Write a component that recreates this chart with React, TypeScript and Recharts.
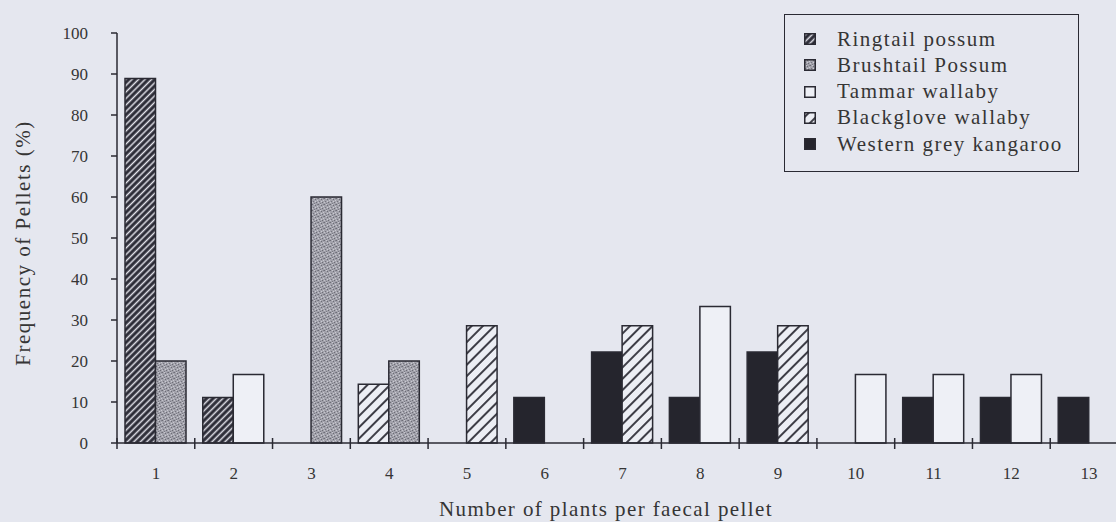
import React from 'react';
import { BarChart, Bar, XAxis, YAxis, Cell } from 'recharts';

const categories = ['1', '2', '3', '4', '5', '6', '7', '8', '9', '10', '11', '12', '13'];

// % of pellets per species for each number of plants
const ringtail = [88.9, 11.1, 0, 0, 0, 0, 0, 0, 0, 0, 0, 0, 0];
const brushtail = [20, 0, 60, 20, 0, 0, 0, 0, 0, 0, 0, 0, 0];
const tammar = [0, 16.7, 0, 0, 0, 0, 0, 33.3, 0, 16.7, 16.7, 16.7, 0];
const blackglove = [0, 0, 0, 14.3, 28.6, 0, 28.6, 0, 28.6, 0, 0, 0, 0];
const western = [0, 0, 0, 0, 0, 11.1, 22.2, 11.1, 22.2, 0, 11.1, 11.1, 11.1];

const yTicks = [0, 10, 20, 30, 40, 50, 60, 70, 80, 90, 100];

const FONT = '"Liberation Serif", "DejaVu Serif", serif';
const INK = '#2a2a33';
const TEXT = '#353535';
const BG = '#e5e7ef';

const W = 1128;
const H = 522;
const PLOT_LEFT = 117;
const BAND = (W - PLOT_LEFT) / categories.length;

// each species sits in its usual half of the category, unless that half is taken
const species = [
  { key: 'ringtail', name: 'Ringtail possum', values: ringtail, fill: 'url(#pRing)', slot: 'left' },
  { key: 'brushtail', name: 'Brushtail Possum', values: brushtail, fill: 'url(#pBrush)', slot: 'right' },
  { key: 'tammar', name: 'Tammar wallaby', values: tammar, fill: '#eef0f6', slot: 'right' },
  { key: 'western', name: 'Western grey kangaroo', values: western, fill: '#25252d', slot: 'left' },
  { key: 'blackglove', name: 'Blackglove wallaby', values: blackglove, fill: 'url(#pBlack)', slot: 'right' },
];
const legendOrder = ['ringtail', 'brushtail', 'tammar', 'blackglove', 'western'];

type Row = { cat: string; left: number | null; right: number | null; leftFill: string; rightFill: string };

const data: Row[] = categories.map((cat, i) => {
  const row: Row = { cat, left: null, right: null, leftFill: 'none', rightFill: 'none' };
  species.forEach((s) => {
    const v = s.values[i];
    if (!v) return;
    let slot = s.slot as 'left' | 'right';
    if (row[slot] !== null) slot = slot === 'left' ? 'right' : 'left';
    row[slot] = v;
    if (slot === 'left') row.leftFill = s.fill;
    else row.rightFill = s.fill;
  });
  return row;
});

function XTick(props: any) {
  const { x, y, payload } = props;
  const bx = x - BAND / 2;
  return (
    <g>
      <line x1={bx} x2={bx} y1={y - 5} y2={y + 6} stroke={INK} strokeWidth={1.5} />
      <text x={x} y={y + 36} textAnchor="middle" fontFamily={FONT} fontSize={17} fill={TEXT}>
        {payload.value}
      </text>
    </g>
  );
}

const YTitle = () => (
  <text
    x={23}
    y={243}
    transform="rotate(-90 23 243)"
    textAnchor="middle"
    dominantBaseline="central"
    fontFamily={FONT}
    fontSize={21}
    letterSpacing={1.5}
    fill={TEXT}
  >
    Frequency of Pellets (%)
  </text>
);

const XTitle = () => (
  <text x={606} y={516} textAnchor="middle" fontFamily={FONT} fontSize={21} letterSpacing={1.4} fill={TEXT}>
    Number of plants per faecal pellet
  </text>
);

function LegendBox() {
  return (
    <div
      style={{
        position: 'absolute',
        left: 784,
        top: 14,
        width: 295,
        height: 158,
        boxSizing: 'border-box',
        border: `1.5px solid ${INK}`,
        fontFamily: FONT,
        fontSize: 21,
        letterSpacing: 1.5,
        color: TEXT,
      }}
    >
      {legendOrder.map((k, i) => {
        const s = species.find((sp) => sp.key === k)!;
        return (
          <div
            key={k}
            style={{
              position: 'absolute',
              left: 19,
              top: 24 + i * 26.3 - 13,
              height: 26,
              display: 'flex',
              alignItems: 'center',
              whiteSpace: 'nowrap',
            }}
          >
            <svg width={12} height={12} style={{ marginRight: 21 }}>
              <rect x={0.75} y={0.75} width={10.5} height={10.5} fill={s.fill} stroke={INK} strokeWidth={1.5} />
            </svg>
            <span>{s.name}</span>
          </div>
        );
      })}
    </div>
  );
}

export default function App() {
  return (
    <div
      style={{
        position: 'fixed',
        left: 0,
        top: 0,
        width: 1116,
        height: H,
        overflow: 'hidden',
        background: BG,
      }}
    >
      <BarChart width={W} height={H} data={data} margin={{ top: 33, right: 0, bottom: 0, left: 0 }} barGap={0}>
        <defs>
          <pattern id="pRing" width="4.6" height="4.6" patternUnits="userSpaceOnUse" patternTransform="rotate(45)">
            <rect width="4.6" height="4.6" fill="#2b2b36" />
            <line x1="2.3" y1="0" x2="2.3" y2="4.6" stroke="#e4e4ec" strokeWidth="1.5" />
          </pattern>
          <pattern id="pBrush" width="6" height="6" patternUnits="userSpaceOnUse">
            <rect width="6" height="6" fill="#a2a2ab" />
            <rect x="0" y="0" width="1" height="1" fill="#6c6c76" />
            <rect x="3" y="1" width="1" height="1" fill="#6c6c76" />
            <rect x="1" y="3" width="1" height="1" fill="#75757f" />
            <rect x="4" y="4" width="1" height="1" fill="#6c6c76" />
            <rect x="2" y="5" width="1" height="1" fill="#7a7a84" />
            <rect x="5" y="0" width="1" height="1" fill="#80808a" />
            <rect x="2" y="0" width="1" height="1" fill="#c8c8d0" />
            <rect x="5" y="2" width="1" height="1" fill="#c8c8d0" />
            <rect x="0" y="4" width="1" height="1" fill="#c4c4cc" />
            <rect x="3" y="3" width="1" height="1" fill="#cbcbd3" />
          </pattern>
          <pattern id="pBlack" width="8" height="8" patternUnits="userSpaceOnUse" patternTransform="rotate(45)">
            <rect width="8" height="8" fill="#eceef4" />
            <line x1="4" y1="0" x2="4" y2="8" stroke={INK} strokeWidth="1.8" />
          </pattern>
        </defs>
        <XAxis
          dataKey="cat"
          interval={0}
          height={H - 443}
          tickLine={false}
          tickSize={0}
          tickMargin={0}
          tick={XTick}
          axisLine={{ stroke: INK, strokeWidth: 1.5 }}
          label={{ content: XTitle }}
        />
        <YAxis
          width={PLOT_LEFT}
          domain={[0, 100]}
          ticks={yTicks}
          interval={0}
          tickSize={6}
          tickMargin={23}
          tickLine={{ stroke: INK, strokeWidth: 1.5 }}
          axisLine={{ stroke: INK, strokeWidth: 1.5 }}
          tick={{ fontFamily: FONT, fontSize: 17, fill: TEXT }}
          label={{ content: YTitle }}
        />
        <Bar dataKey="left" barSize={30.5} isAnimationActive={false}>
          {data.map((d) => (
            <Cell key={'l' + d.cat} fill={d.leftFill} stroke={INK} strokeWidth={1.5} />
          ))}
        </Bar>
        <Bar dataKey="right" barSize={30.5} isAnimationActive={false}>
          {data.map((d) => (
            <Cell key={'r' + d.cat} fill={d.rightFill} stroke={INK} strokeWidth={1.5} />
          ))}
        </Bar>
      </BarChart>
      <LegendBox />
    </div>
  );
}
